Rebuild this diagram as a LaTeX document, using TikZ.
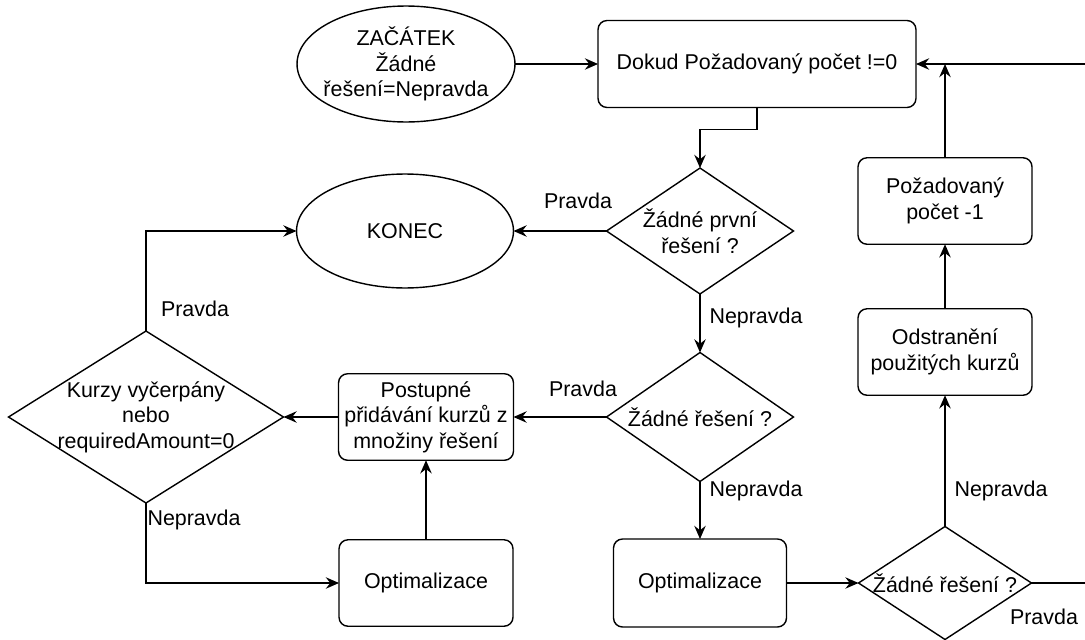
\documentclass[tikz,border=0pt]{standalone}
\usepackage{fontspec}
\setmainfont{Liberation Sans}
\usetikzlibrary{shapes.geometric,arrows.meta}
\tikzset{
  base/.style={draw=black, line width=0.8pt, outer sep=0pt, font=\fontsize{12.2}{14.6}\selectfont, align=center},
  proc/.style={base, rectangle, rounded corners=0.18cm, minimum width=3.48cm, minimum height=1.73cm},
  term/.style={base, ellipse, inner sep=0pt},
  cond/.style={base, diamond, inner sep=0pt},
  ctext/.style={font=\fontsize{12.2}{14.6}\selectfont, align=center, inner sep=0pt},
  tag/.style={font=\fontsize{12.2}{14.6}\selectfont, inner sep=1pt},
  arr/.style={line width=0.8pt, -{Stealth[length=7.5pt, width=6.5pt, inset=2.5pt]}}
}

\begin{document}
\begin{tikzpicture}[x=0.02cm, y=-0.02cm]
  \clip (0,0) rectangle (1085,639);
  % nodes
  \node[term, minimum width=4.36cm, minimum height=2.32cm,
    label={[ctext]center:ZAČÁTEK\\Žádné\\řešení=Nepravda}] (start) at (406,64) {};
  \node[proc, minimum width=6.36cm, minimum height=1.74cm] (loop) at (757,64) {Dokud Požadovaný počet !=0};
  \node[term, minimum width=4.34cm, minimum height=2.28cm] (konec) at (405,231) {KONEC};
  \node[cond, minimum width=3.74cm, minimum height=2.52cm,
    label={[ctext]center:Žádné první\\řešení ?}] (first) at (700,231) {};
  \node[cond, minimum width=3.74cm, minimum height=2.58cm,
    label={[ctext]center:Žádné řešení ?}] (none) at (700,417) {};
  \node[proc] (add) at (426,417) {Postupné\\přidávání kurzů z\\množiny řešení};
  \node[cond, minimum width=5.5cm, minimum height=3.44cm,
    label={[ctext]center:Kurzy vyčerpány\\nebo\\requiredAmount=0}] (empty) at (146,417) {};
  \node[proc] (optA) at (426,583) {Optimalizace};
  \node[proc, minimum width=3.46cm, minimum height=1.76cm] (optB) at (700,583) {Optimalizace};
  \node[cond, minimum width=3.46cm, minimum height=2.26cm,
    label={[ctext]center:Žádné řešení ?}] (none2) at (945,583) {};
  \node[proc] (remove) at (945,352) {Odstranění\\použitých kurzů};
  \node[proc] (dec) at (945,201) {Požadovaný\\počet -1};

  % connectors
  \draw[arr] (start.east) -- (loop.west);
  \draw[arr] (loop.south) -- ++(0,22) -| (first.north);
  \draw[arr] (first.west) -- (konec.east);
  \draw[arr] (first.south) -- (none.north);
  \draw[arr] (none.west) -- (add.east);
  \draw[arr] (add.west) -- (empty.east);
  \draw[arr] (empty.north) |- (konec.west);
  \draw[arr] (empty.south) |- (optA.west);
  \draw[arr] (optA.north) -- (add.south);
  \draw[arr] (none.south) -- (optB.north);
  \draw[arr] (optB.east) -- (none2.west);
  \draw[arr] (none2.north) -- (remove.south);
  \draw[arr] (remove.north) -- (dec.south);
  \draw[arr] (dec.north) -- (dec.north |- loop.east);
  \draw[arr] (none2.east) -- ++(80,0) |- (loop.east);

  % branch labels
  \node[tag] (t1) at (578,201) {Pravda};
  \node[tag] (f1) at (756,318) {Nepravda};
  \node[tag] (t2) at (583,389) {Pravda};
  \node[tag] (f2) at (756,491) {Nepravda};
  \node[tag] (t3) at (195,309) {Pravda};
  \node[tag] (f3) at (194,520) {Nepravda};
  \node[tag] (f4) at (1001,491) {Nepravda};
  \node[tag] (t4) at (1044,617) {Pravda};
\end{tikzpicture}
\end{document}
